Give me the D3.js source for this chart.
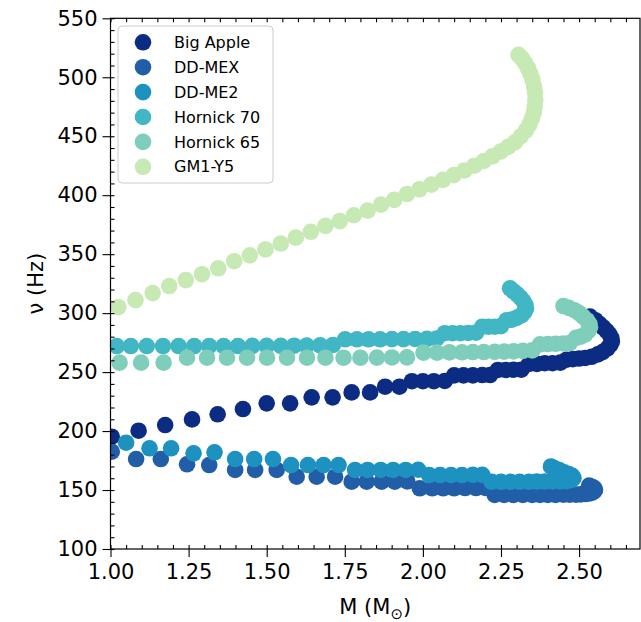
<!DOCTYPE html>
<html>
<head>
<meta charset="utf-8">
<script src="https://cdn.jsdelivr.net/npm/d3@7"></script>
<style>
  body { margin: 0; background: #fff; }
  svg { display: block; font-family: "DejaVu Sans", sans-serif; }
</style>
</head>
<body>
<div id="chart"></div>
<script>
(function() {
  'use strict';

  var seriesNames = ['Big Apple', 'DD-MEX', 'DD-ME2', 'Hornick 70', 'Hornick 65', 'GM1-Y5'];

  var bigAppleM = [1.004,1.090,1.175,1.261,1.343,1.424,1.500,1.575,1.644,1.711,1.772,1.831,1.879,1.925,1.965,2.000,2.035,2.070,2.100,2.130,2.160,2.190,2.215,2.240,2.265,2.290,2.315,2.340,2.365,2.390,2.415,2.440,2.460,2.480,2.500,2.520,2.540,2.560,2.575,2.590,2.600,2.605,2.603,2.597,2.588,2.577,2.565,2.552,2.535];
  var bigAppleNu = [195.2,200.3,205.1,209.9,214.2,218.7,223.5,223.5,228.6,228.6,232.8,232.8,237.6,237.6,242.3,242.3,242.3,242.5,247.2,247.2,247.2,247.5,247.5,251.8,251.8,252.0,252.0,257.0,257.0,257.5,257.5,258.0,260.5,261.0,261.5,262.0,263.0,265.0,267.0,270.0,273.0,276.0,279.0,282.0,285.0,288.0,291.0,294.0,297.0];

  var ddMexM = [1.004,1.082,1.161,1.245,1.316,1.399,1.463,1.532,1.596,1.660,1.719,1.772,1.820,1.868,1.910,1.950,1.990,2.030,2.065,2.100,2.135,2.170,2.200,2.230,2.260,2.290,2.320,2.350,2.375,2.400,2.425,2.450,2.470,2.490,2.505,2.520,2.532,2.542,2.549,2.551,2.548,2.541,2.532];
  var ddMexNu = [182.5,176.3,176.3,171.8,171.2,167.0,167.0,167.0,161.3,161.3,161.3,157.1,157.1,157.1,157.1,157.3,151.5,151.5,151.5,151.5,151.7,151.7,151.8,145.8,145.8,145.8,145.8,145.8,145.8,145.9,145.9,146.0,146.0,146.1,146.3,146.6,147.0,147.8,149.0,150.3,151.6,152.8,153.8];

  var ddMe2M = [1.050,1.125,1.194,1.266,1.333,1.399,1.460,1.520,1.578,1.632,1.682,1.730,1.783,1.823,1.865,1.905,1.945,1.985,2.020,2.055,2.090,2.125,2.160,2.190,2.220,2.250,2.280,2.310,2.340,2.365,2.390,2.415,2.440,2.460,2.475,2.482,2.478,2.467,2.452,2.436,2.421,2.410];
  var ddMe2Nu = [190.1,185.4,185.4,181.1,182.0,176.3,176.3,176.3,171.2,171.2,171.2,171.2,167.0,167.0,167.0,167.0,167.0,167.2,162.7,162.7,162.7,162.7,162.9,162.9,157.0,157.0,157.0,157.0,157.0,157.2,157.2,157.3,157.3,157.5,158.5,160.0,162.0,163.5,165.0,167.0,168.5,170.0];

  var hornick70M = [1.020,1.065,1.116,1.168,1.218,1.268,1.316,1.362,1.408,1.454,1.500,1.545,1.588,1.628,1.671,1.712,1.751,1.789,1.826,1.863,1.901,1.938,1.975,2.013,2.044,2.070,2.095,2.120,2.145,2.170,2.190,2.210,2.230,2.250,2.268,2.285,2.300,2.315,2.325,2.330,2.328,2.322,2.313,2.302,2.290,2.279];
  var hornick70Nu = [272.1,272.1,272.1,272.1,272.1,272.1,272.1,272.1,272.1,272.2,272.2,272.3,272.4,272.5,272.7,273.0,277.8,277.8,277.8,277.8,278.0,278.0,278.1,278.2,278.5,283.0,283.0,283.0,283.2,283.5,288.5,288.5,288.5,289.0,294.0,294.5,296.0,298.0,301.0,304.0,307.0,310.0,313.0,316.0,318.5,321.0];

  var hornick65M = [1.029,1.098,1.170,1.245,1.309,1.373,1.437,1.501,1.565,1.629,1.688,1.746,1.800,1.853,1.901,1.949,2.002,2.045,2.085,2.125,2.160,2.195,2.230,2.260,2.290,2.320,2.350,2.375,2.400,2.425,2.450,2.470,2.490,2.505,2.520,2.530,2.535,2.533,2.525,2.513,2.500,2.485,2.467,2.450];
  var hornick65Nu = [258.0,258.0,258.0,262.2,262.2,262.2,262.2,262.2,262.2,262.2,262.2,262.2,262.2,262.3,262.4,262.5,266.5,266.5,266.7,266.8,267.0,267.0,267.2,267.4,267.6,268.0,268.4,273.5,273.8,274.0,274.3,274.6,279.0,280.0,282.0,285.0,288.0,291.0,294.0,297.0,300.0,302.5,304.5,306.0];

  var gm1y5M = [1.025,1.080,1.135,1.188,1.241,1.293,1.345,1.396,1.446,1.496,1.545,1.593,1.641,1.688,1.734,1.779,1.823,1.866,1.908,1.949,1.989,2.027,2.064,2.099,2.133,2.165,2.195,2.223,2.249,2.273,2.295,2.314,2.330,2.341,2.349,2.355,2.358,2.360,2.359,2.356,2.351,2.344,2.336,2.327,2.317,2.306];
  var gm1y5Nu = [305,311,317,323,328,333,338,344,349,354,359,364,369,374,378,383,387,392,396,401,405,409,413,417,421,425,429,433,437,441,445,450,455,460,465,470,475,481,487,492,498,503,508,512,516,519];

  var xTicks = [1.00, 1.25, 1.50, 1.75, 2.00, 2.25, 2.50];
  var yTicks = [100, 150, 200, 250, 300, 350, 400, 450, 500, 550];

  var colors = ['#0c2c84', '#225ea8', '#1d91c0', '#41b6c4', '#7fcdbb', '#c7e9b4'];

  var series = [
    [bigAppleM, bigAppleNu],
    [ddMexM, ddMexNu],
    [ddMe2M, ddMe2Nu],
    [hornick70M, hornick70Nu],
    [hornick65M, hornick65Nu],
    [gm1y5M, gm1y5Nu]
  ].map(function(s, i) {
    return {
      name: seriesNames[i],
      color: colors[i],
      points: s[0].map(function(m, j) { return { m: m, nu: s[1][j] }; })
    };
  });

  var width = 641, height = 622;
  var left = 110.5, right = 640, top = 18.3, bottom = 549;
  var radius = 8.3;

  var svg = d3.select('#chart').append('svg')
      .attr('width', width)
      .attr('height', height);

  var x = d3.scaleLinear().domain([1, 2.695]).range([left, right]);
  var y = d3.scaleLinear().domain([100, 550]).range([bottom, top]);

  svg.append('clipPath').attr('id', 'plot-clip')
    .append('rect')
      .attr('x', left).attr('y', top)
      .attr('width', right - left).attr('height', bottom - top);

  // scatter, drawn in legend order so later series sit on top
  var plot = svg.append('g').attr('clip-path', 'url(#plot-clip)');
  series.forEach(function(s) {
    plot.append('g')
      .selectAll('circle')
      .data(s.points)
      .enter()
      .append('circle')
        .attr('cx', function(d) { return x(d.m); })
        .attr('cy', function(d) { return y(d.nu); })
        .attr('r', radius)
        .attr('fill', s.color);
  });

  var xMinor = d3.range(1, 2.6951, 0.05);
  var yMinor = d3.range(100, 550.1, 10);

  function styleAxis(g) {
    g.selectAll('.domain').remove();
    g.selectAll('line').attr('stroke', '#000').attr('stroke-width', 1.1);
    g.selectAll('text')
      .attr('fill', '#000')
      .attr('font-family', '"DejaVu Sans", sans-serif')
      .attr('font-size', 21);
  }

  // minor ticks point inward, major ticks outward
  svg.append('g')
      .attr('transform', 'translate(0,' + bottom + ')')
      .call(d3.axisBottom(x).tickValues(xMinor).tickSize(-4).tickFormat(''))
      .call(styleAxis);
  svg.append('g')
      .attr('transform', 'translate(0,' + bottom + ')')
      .call(d3.axisBottom(x).tickValues(xTicks).tickSize(8).tickPadding(7)
        .tickFormat(d3.format('.2f')))
      .call(styleAxis);
  svg.append('g')
      .attr('transform', 'translate(0,' + top + ')')
      .call(d3.axisTop(x).tickValues(xMinor).tickSize(-4).tickFormat(''))
      .call(styleAxis);
  svg.append('g')
      .attr('transform', 'translate(' + left + ',0)')
      .call(d3.axisLeft(y).tickValues(yMinor).tickSize(-4).tickFormat(''))
      .call(styleAxis);
  svg.append('g')
      .attr('transform', 'translate(' + left + ',0)')
      .call(d3.axisLeft(y).tickValues(yTicks).tickSize(8).tickPadding(5)
        .tickFormat(d3.format('d')))
      .call(styleAxis);

  svg.append('rect')
      .attr('x', left).attr('y', top)
      .attr('width', right - left).attr('height', bottom - top)
      .attr('fill', 'none')
      .attr('stroke', '#000')
      .attr('stroke-width', 1.2);

  var xLabel = svg.append('text')
      .attr('x', (left + right) / 2)
      .attr('y', 614)
      .attr('text-anchor', 'middle')
      .attr('font-size', 21);
  xLabel.append('tspan').text('M (M');
  xLabel.append('tspan').attr('font-size', 15).attr('dy', 5).text('\u2299');
  xLabel.append('tspan').attr('dy', -5).text(')');

  svg.append('text')
      .attr('transform', 'translate(43,' + (top + bottom) / 2 + ') rotate(-90)')
      .attr('text-anchor', 'middle')
      .attr('font-size', 21)
      .text('\u03bd (Hz)');

  // legend
  var legend = svg.append('g').attr('transform', 'translate(118,26)');
  legend.append('rect')
      .attr('width', 155).attr('height', 157)
      .attr('rx', 4)
      .attr('fill', '#fff').attr('fill-opacity', 0.8)
      .attr('stroke', '#cccccc').attr('stroke-width', 1);
  var rows = legend.selectAll('g.row')
      .data(series)
      .enter()
      .append('g')
        .attr('class', 'row')
        .attr('transform', function(d, i) { return 'translate(0,' + (16.3 + i * 24.9) + ')'; });
  rows.append('circle')
      .attr('cx', 25).attr('r', 8.3)
      .attr('fill', function(d) { return d.color; });
  rows.append('text')
      .attr('x', 56)
      .attr('dy', '0.35em')
      .attr('font-size', 16)
      .text(function(d) { return d.name; });
}).call();
</script>
</body>
</html>
